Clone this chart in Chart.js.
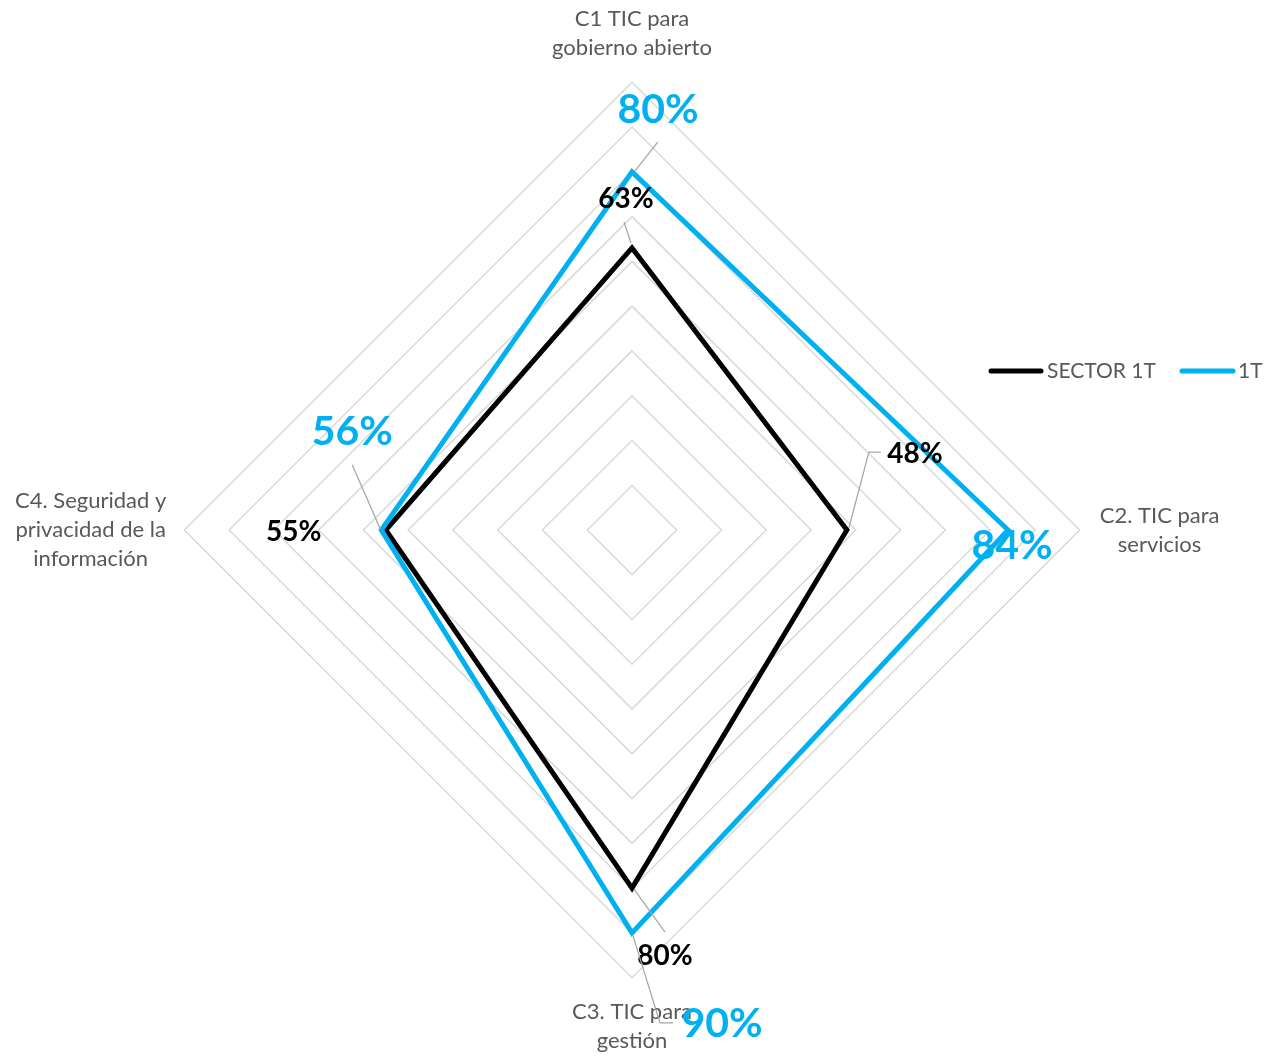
<!DOCTYPE html>
<html lang="es">
<head>
<meta charset="utf-8">
<title>Radar TIC</title>
<script src="https://cdn.jsdelivr.net/npm/chart.js@4.4.1/dist/chart.umd.min.js"></script>
<style>
    html, body { margin: 0; padding: 0; background: #fff; }
    #wrap { position: relative; width: 1266px; height: 1060px; }
</style>
</head>
<body>
<div id="wrap"><canvas id="radarChart"></canvas></div>
<script>
// === DATA ===
const categories = [
    ['C1 TIC para', 'gobierno abierto'],
    ['C2. TIC para', 'servicios'],
    ['C3. TIC para', 'gestión'],
    ['C4. Seguridad y', 'privacidad de la', 'información']
];
const seriesNames = ['SECTOR 1T', '1T'];
const sectorValues = [63, 48, 80, 55];
const trimestreValues = [80, 84, 90, 56];
const scaleMin = 0;
const scaleMax = 100;
const scaleStep = 10;

// === STYLE ===
const COLORS = {
    sector: '#000000',
    trimestre: '#00B0F0',
    grid: '#D9D9D9',
    text: '#595959',
    leader: '#A6A6A6'
};

const LABEL_FONT_SIZE = 22;
const LABEL_LINE_HEIGHT = 1.32;

// gap between outer ring and category label (top, right, bottom, left)
const POINT_LABEL_PAD = [20, 20, 20, 18];

// data label placement, relative to each point: text centre + leader polyline
const LABEL_STYLE = [
    {
        font: 'bold 28px Lato',
        color: COLORS.sector,
        offsets: [[-6, -49], [68, -76], [33, 68], [-92, 2]],
        leaders: [[[-8, -26], [-1, -5]], [[2, -2], [22, -78], [34, -78]], [[2, 1], [33, 44]], null]
    },
    {
        font: 'bold 41px Lato',
        color: COLORS.trimestre,
        offsets: [[26, -62], [4, 16], [90, 91], [-29, -98]],
        leaders: [[[26, -30], [3, -1]], null, [[1, 3], [28, 90], [41, 90]], [[-29, -65], [-1, -1]]]
    }
];

// category labels: Chart.js lays out the boxes, we draw the lines centred in them
const centredPointLabels = {
    id: 'centredPointLabels',
    beforeDatasetsDraw(chart) {
        const scale = chart.scales.r;
        const ctx = chart.ctx;
        const lh = LABEL_FONT_SIZE * LABEL_LINE_HEIGHT;
        ctx.save();
        ctx.font = LABEL_FONT_SIZE + 'px Lato';
        ctx.fillStyle = COLORS.text;
        ctx.textAlign = 'center';
        ctx.textBaseline = 'middle';
        categories.forEach((lines, i) => {
            const box = scale.getPointLabelPosition(i);
            const cx = (box.left + box.right) / 2;
            lines.forEach((line, k) => {
                ctx.fillText(line, cx, box.top + lh * (k + 0.5));
            });
        });
        ctx.restore();
    }
};

const dataLabels = {
    id: 'dataLabels',
    afterDatasetsDraw(chart) {
        const ctx = chart.ctx;
        chart.data.datasets.forEach((ds, di) => {
            const meta = chart.getDatasetMeta(di);
            const style = LABEL_STYLE[di];
            meta.data.forEach((pt, i) => {
                const lead = style.leaders[i];
                ctx.save();
                if (lead) {
                    ctx.strokeStyle = COLORS.leader;
                    ctx.lineWidth = 1.25;
                    ctx.beginPath();
                    lead.forEach((p, k) => {
                        if (k === 0) ctx.moveTo(pt.x + p[0], pt.y + p[1]);
                        else ctx.lineTo(pt.x + p[0], pt.y + p[1]);
                    });
                    ctx.stroke();
                }
                ctx.font = style.font;
                ctx.fillStyle = style.color;
                ctx.textAlign = 'center';
                ctx.textBaseline = 'middle';
                ctx.fillText(ds.data[i] + '%', pt.x + style.offsets[i][0], pt.y + style.offsets[i][1]);
                ctx.restore();
            });
        });
    }
};

const customLegend = {
    id: 'customLegend',
    afterDraw(chart) {
        const ctx = chart.ctx;
        const items = [
            { x1: 991, x2: 1041, tx: 1047, color: COLORS.sector, text: seriesNames[0] },
            { x1: 1182, x2: 1233, tx: 1238, color: COLORS.trimestre, text: seriesNames[1] }
        ];
        const y = 371;
        ctx.save();
        items.forEach(it => {
            ctx.strokeStyle = it.color;
            ctx.lineWidth = 5;
            ctx.lineCap = 'round';
            ctx.beginPath();
            ctx.moveTo(it.x1, y);
            ctx.lineTo(it.x2, y);
            ctx.stroke();
            ctx.font = '21px Lato';
            ctx.fillStyle = COLORS.text;
            ctx.textAlign = 'left';
            ctx.textBaseline = 'middle';
            ctx.fillText(it.text, it.tx, y);
        });
        ctx.restore();
    }
};

document.addEventListener('DOMContentLoaded', function() {
    const canvas = document.getElementById('radarChart');

    new Chart(canvas, {
        type: 'radar',
        data: {
            labels: categories,
            datasets: [
                {
                    label: seriesNames[0],
                    data: sectorValues,
                    borderColor: COLORS.sector,
                    backgroundColor: 'transparent',
                    borderWidth: 5,
                    pointRadius: 0,
                    fill: false,
                    order: 1
                },
                {
                    label: seriesNames[1],
                    data: trimestreValues,
                    borderColor: COLORS.trimestre,
                    backgroundColor: 'transparent',
                    borderWidth: 5,
                    pointRadius: 0,
                    fill: false,
                    order: 0
                }
            ]
        },
        options: {
            responsive: true,
            maintainAspectRatio: false,
            animation: false,
            layout: {
                padding: { top: 3, bottom: 3, left: 0, right: 31 }
            },
            plugins: {
                legend: { display: false },
                tooltip: { enabled: false }
            },
            scales: {
                r: {
                    min: scaleMin,
                    max: scaleMax,
                    ticks: { display: false, stepSize: scaleStep },
                    angleLines: { display: false },
                    grid: { color: COLORS.grid, lineWidth: 1.5, circular: false },
                    pointLabels: {
                        color: 'rgba(0,0,0,0)',
                        font: { family: 'Lato', size: LABEL_FONT_SIZE, lineHeight: LABEL_LINE_HEIGHT },
                        padding: ctx => POINT_LABEL_PAD[ctx.index]
                    }
                }
            }
        },
        plugins: [centredPointLabels, dataLabels, customLegend]
    });
});
</script>
</body>
</html>
